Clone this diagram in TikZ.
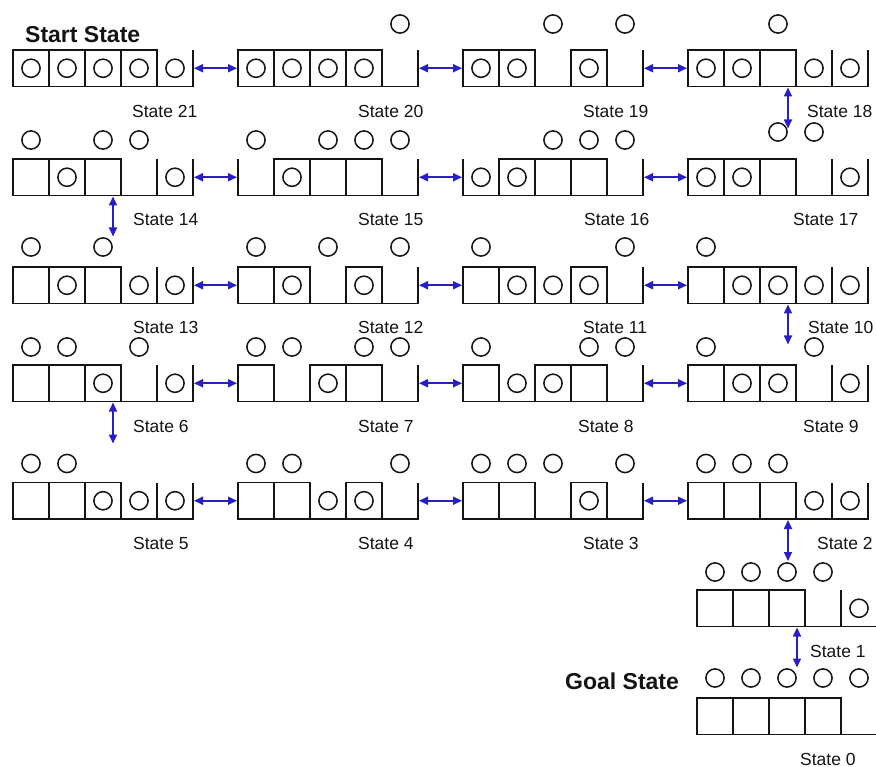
\documentclass[tikz,border=0pt]{standalone}
\usepackage{fontspec}
\usetikzlibrary{arrows.meta,calc}
\newfontfamily\labfont{Liberation Sans}
\definecolor{arrblue}{RGB}{40,30,200}
\definecolor{ink}{RGB}{20,20,20}
\tikzset{
  statebox/.style={rectangle, minimum width=180pt, minimum height=36.5pt, inner sep=0pt, outer sep=0pt, draw=none},
  tray/.style={draw=ink, line width=1.8pt, line join=miter},
  ball/.style={draw=ink, line width=1.5pt},
  lbl/.style={font=\labfont\fontsize{17.5}{20}\selectfont, inner sep=0pt, anchor=base west, text=ink},
  ttl/.style={font=\labfont\bfseries\fontsize{23}{26}\selectfont, inner sep=0pt, anchor=base west, text=ink},
  arr/.style={{Triangle[length=9pt,width=8pt]}-{Triangle[length=9pt,width=8pt]}, draw=arrblue, fill=arrblue, line width=1.7pt, shorten <=1pt, shorten >=1pt}
}
% cell kinds: B = square box, O = open slot; I = ball inside, A = ball above
\newcommand{\mycellBI}[3]{%
  \draw[tray] ($(#1.south west)+(#2*36,0)$) rectangle ++(36,-36.5);
  \draw[ball] ($(#1.west)+(#2*36+18,0)$) circle[radius=9.1pt];}
\newcommand{\mycellBA}[3]{%
  \draw[tray] ($(#1.south west)+(#2*36,0)$) rectangle ++(36,-36.5);
  \draw[ball] ($(#1.north west)+(#2*36+18,-#3)$) circle[radius=9.1pt];}
\newcommand{\mycellOI}[3]{%
  \draw[ball] ($(#1.west)+(#2*36+18,0)$) circle[radius=9.1pt];}
\newcommand{\mycellOA}[3]{%
  \draw[ball] ($(#1.north west)+(#2*36+18,-#3)$) circle[radius=9.1pt];}
\newcommand{\stateat}[5]{%
  \node[statebox, anchor=north west] (#1) at (#2,#3) {};
  \draw[tray] (#1.north west) -- (#1.south west) -- (#1.south east) -- (#1.north east);
  \draw[tray] ($(#1.south west)+(144,0)$) -- ($(#1.north west)+(144,0)$);
  \foreach \cellcode [count=\i from 0] in {#4} {\csname mycell\cellcode\endcsname{#1}{\i}{#5}}%
}
\begin{document}
\begin{tikzpicture}[x=1pt,y=-1pt]
\useasboundingbox (0,0) rectangle (876,767);
\fill[white] (0,0) rectangle (876,767);
\clip (0,0) rectangle (876,767);

% row 1
\stateat{s21}{13}{50}{BI,BI,BI,BI,OI}{26}
\stateat{s20}{238}{50}{BI,BI,BI,BI,OA}{26}
\stateat{s19}{463}{50}{BI,BI,OA,BI,OA}{26}
\stateat{s18}{688}{50}{BI,BI,BA,OI,OI}{26}
% row 2
\stateat{s14}{13}{159}{BA,BI,BA,OA,OI}{19}
\stateat{s15}{238}{159}{OA,BI,BA,BA,OA}{19}
\stateat{s16}{463}{159}{OI,BI,BA,BA,OA}{19}
\stateat{s17}{688}{159}{BI,BI,BA,OA,OI}{27}
% row 3
\stateat{s13}{13}{267}{BA,BI,BA,OI,OI}{20}
\stateat{s12}{238}{267}{BA,BI,OA,BI,OA}{20}
\stateat{s11}{463}{267}{BA,BI,OI,BI,OA}{20}
\stateat{s10}{688}{267}{BA,BI,BI,OI,OI}{20}
% row 4
\stateat{s6}{13}{365}{BA,BA,BI,OA,OI}{18}
\stateat{s7}{238}{365}{BA,OA,BI,BA,OA}{18}
\stateat{s8}{463}{365}{BA,OI,BI,BA,OA}{18}
\stateat{s9}{688}{365}{BA,BI,BI,OA,OI}{18}
% row 5
\stateat{s5}{13}{482.5}{BA,BA,BI,OI,OI}{19}
\stateat{s4}{238}{482.5}{BA,BA,OI,BI,OA}{19}
\stateat{s3}{463}{482.5}{BA,BA,OA,BI,OA}{19}
\stateat{s2}{688}{482.5}{BA,BA,BA,OI,OI}{19}
% last two
\stateat{s1}{697}{590}{BA,BA,BA,OA,OI}{18}
\stateat{s0}{697}{698}{BA,BA,BA,BA,OA}{20}

% titles
\node[ttl] (start) at (25,43) {Start State};
\node[ttl] (goal) at (565,689) {Goal State};

% labels
\node[lbl] (l21) at (132,117.5) {State 21};
\node[lbl] (l20) at (358,117.5) {State 20};
\node[lbl] (l19) at (583,117.5) {State 19};
\node[lbl] (l18) at (807,117.5) {State 18};
\node[lbl] (l14) at (133,226) {State 14};
\node[lbl] (l15) at (358,226) {State 15};
\node[lbl] (l16) at (584,226) {State 16};
\node[lbl] (l17) at (793,226) {State 17};
\node[lbl] (l13) at (133,334) {State 13};
\node[lbl] (l12) at (358,334) {State 12};
\node[lbl] (l11) at (583,334) {State 11};
\node[lbl] (l10) at (808,334) {State 10};
\node[lbl] (l6) at (133,432) {State 6};
\node[lbl] (l7) at (358,432) {State 7};
\node[lbl] (l8) at (578,432) {State 8};
\node[lbl] (l9) at (803,432) {State 9};
\node[lbl] (l5) at (133,549.5) {State 5};
\node[lbl] (l4) at (358,549.5) {State 4};
\node[lbl] (l3) at (583,549.5) {State 3};
\node[lbl] (l2) at (817,549.5) {State 2};
\node[lbl] (l1) at (810,657.5) {State 1};
\node[lbl] (l0) at (800,765) {State 0};

% horizontal transitions
\draw[arr] (s21.east) -- (s20.west);
\draw[arr] (s20.east) -- (s19.west);
\draw[arr] (s19.east) -- (s18.west);
\draw[arr] (s14.east) -- (s15.west);
\draw[arr] (s15.east) -- (s16.west);
\draw[arr] (s16.east) -- (s17.west);
\draw[arr] (s13.east) -- (s12.west);
\draw[arr] (s12.east) -- (s11.west);
\draw[arr] (s11.east) -- (s10.west);
\draw[arr] (s6.east) -- (s7.west);
\draw[arr] (s7.east) -- (s8.west);
\draw[arr] (s8.east) -- (s9.west);
\draw[arr] (s5.east) -- (s4.west);
\draw[arr] (s4.east) -- (s3.west);
\draw[arr] (s3.east) -- (s2.west);

% vertical transitions
\coordinate (v18) at ($(s18.south west)+(100,43)$);
\coordinate (v14) at ($(s14.south west)+(100,42)$);
\coordinate (v10) at ($(s10.south west)+(100,42)$);
\coordinate (v6) at ($(s6.south west)+(100,43)$);
\coordinate (v2) at ($(s2.south west)+(100,43)$);
\coordinate (v1) at ($(s1.south west)+(100,42)$);
\draw[arr] ($(s18.south west)+(100,0)$) -- (v18);
\draw[arr] ($(s14.south west)+(100,0)$) -- (v14);
\draw[arr] ($(s10.south west)+(100,0)$) -- (v10);
\draw[arr] ($(s6.south west)+(100,0)$) -- (v6);
\draw[arr] ($(s2.south west)+(100,0)$) -- (v2);
\draw[arr] ($(s1.south west)+(100,0)$) -- (v1);
\end{tikzpicture}
\end{document}
